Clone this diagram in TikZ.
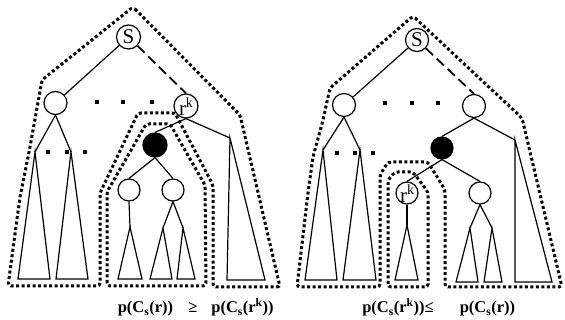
\documentclass[tikz,border=0pt]{standalone}
\usepackage{fontspec}
\setmainfont{Liberation Serif}
\newcommand\rkl{r\raisebox{.36em}{\fontsize{14}{14}\selectfont k}}
\begin{document}
\begin{tikzpicture}[x=1pt,y=-1pt,
  nd/.style={circle,draw,line width=1.2pt,inner sep=0pt,minimum size=23pt},
  dk/.style={nd,fill=black},
  lbl/.style={inner sep=0pt,font=\fontsize{21}{21}\selectfont},
  br/.style={line width=1.2pt},
  tri/.style={line width=1.2pt,line join=miter},
  zone/.style={line width=3pt,dash pattern=on 3pt off 2.5pt,rounded corners=3pt},
  lnk/.style={line width=1.8pt,dash pattern=on 10pt off 5pt},
  sq/.style={fill=black,inner sep=0pt,minimum size=4.3pt},
  eq/.style={anchor=base,inner sep=0pt,font=\bfseries\fontsize{16.5}{16.5}\selectfont}]
\useasboundingbox (0,0) rectangle (565,320);

% ---------------- left tree ----------------
\node[nd,minimum size=24pt] (S) at (128.5,37) {};
\node[lbl] (St) at (128.5,37) {S};
\node[nd] (L1) at (55.5,103) {};
\node[nd,minimum size=24pt] (RK) at (186,106) {};
\node[lbl] (RKt) at (186,106.5) {\rkl};
\node[dk,minimum size=24pt] (DK) at (155,145) {};
\node[nd,minimum size=22pt] (C1) at (129,190) {};
\node[nd,minimum size=22pt] (C2) at (173,190) {};

\node[sq] (d1) at (97,102) {};
\node[sq] (d2) at (123,102) {};
\node[sq] (d3) at (152,102) {};
\node[sq] (d4) at (48,152) {};
\node[sq] (d5) at (67,152) {};
\node[sq] (d6) at (85,152) {};

\coordinate (a1) at (35,152);
\coordinate (a2) at (71,152);
\coordinate (a3) at (230,138);
\coordinate (a4) at (130,227);
\coordinate (a5) at (163,228);
\coordinate (a6) at (183,228);

\draw[br] (S) -- (L1);
\draw[lnk] (S) -- (RK.north);
\draw[br] (L1.south) -- (a1);
\draw[br] (L1.south) -- (a2);
\draw[br] (RK.south) -- (DK.north);
\draw[br] (RK.south) -- (a3);
\draw[br] (DK.south) -- (C1.north);
\draw[br] (DK.south) -- (C2.north);
\draw[br] (C1.south) -- (a4);
\draw[br] (C2.south) -- (a5);
\draw[br] (C2.south) -- (a6);

\draw[tri] (a1) -- (18,279) -- (50,279) -- cycle;
\draw[tri] (a2) -- (56,279) -- (88,279) -- cycle;
\draw[tri] (a3) -- (227,280) -- (265,280) -- cycle;
\draw[tri] (a4) -- (118,279) -- (142,279) -- cycle;
\draw[tri] (a5) -- (150,279) -- (172,279) -- cycle;
\draw[tri] (a6) -- (177,279) -- (195,279) -- cycle;

\draw[zone] (133,7) -- (240,115) -- (280,287) -- (213,287) -- (213,185)
  -- (175,113) -- (138,113) -- (100,193) -- (100,286) -- (8,286)
  -- (20,197) -- (30,147) -- (42,80) -- cycle;
\draw[zone] (107,286) -- (107,192) -- (146,124) -- (170,124) -- (205,185)
  -- (206,286) -- cycle;

\node[eq] (e1) at (145.5,313) {p(C\textsubscript{s}(r))};
\node[eq] (e2) at (193,313) {≥};
\node[eq] (e3) at (242.5,313) {p(C\textsubscript{s}(r\textsuperscript{k}))};

% ---------------- right tree ----------------
\node[nd] (S2) at (417,40) {};
\node[lbl] (S2t) at (417,40) {S};
\node[nd] (L2) at (344,105) {};
\node[nd] (R2) at (474,106) {};
\node[dk,minimum size=22pt] (DK2) at (442,148) {};
\node[nd,minimum size=22pt] (RK2) at (407,193) {};
\node[lbl] (RK2t) at (407,193.5) {\rkl};
\node[nd,minimum size=22pt] (C3) at (480,193) {};

\node[sq] (f1) at (385,103) {};
\node[sq] (f2) at (412,103) {};
\node[sq] (f3) at (438,103) {};
\node[sq] (f4) at (337,153) {};
\node[sq] (f5) at (355,153) {};
\node[sq] (f6) at (373,153) {};

\coordinate (b1) at (323,150);
\coordinate (b2) at (360,150);
\coordinate (b3) at (515,140);
\coordinate (b4) at (407,225);
\coordinate (b5) at (470,228);
\coordinate (b6) at (492,228);

\draw[br] (S2) -- (L2);
\draw[lnk] (S2) -- (R2.north);
\draw[br] (L2.south) -- (b1);
\draw[br] (L2.south) -- (b2);
\draw[br] (R2.south) -- (DK2.north);
\draw[br] (R2.south) -- (b3);
\draw[br] (DK2.south) -- (RK2.north);
\draw[br] (DK2.south) -- (C3.north);
\draw[br] (RK2.south) -- (b4);
\draw[br] (C3.south) -- (b5);
\draw[br] (C3.south) -- (b6);

\draw[tri] (b1) -- (305,280) -- (337,280) -- cycle;
\draw[tri] (b2) -- (343,280) -- (376,280) -- cycle;
\draw[tri] (b3) -- (515,282) -- (552,282) -- cycle;
\draw[tri] (b4) -- (395,280) -- (418,280) -- cycle;
\draw[tri] (b5) -- (456,282) -- (478,282) -- cycle;
\draw[tri] (b6) -- (484,282) -- (502,282) -- cycle;

\draw[zone] (413,16) -- (522,118) -- (562,287) -- (445,287) -- (445,190)
  -- (428,162) -- (388,162) -- (380,175) -- (380,287) -- (297,287)
  -- (308,193) -- (313,157) -- (323,120) -- (330,88) -- cycle;
\draw[zone] (388,287) -- (388,180) -- (395,172) -- (413,172) -- (428,192)
  -- (428,287) -- cycle;

\node[eq] (g1) at (398,313) {p(C\textsubscript{s}(r\textsuperscript{k}))≤};
\node[eq] (g2) at (487.5,313) {p(C\textsubscript{s}(r))};
\end{tikzpicture}
\end{document}
